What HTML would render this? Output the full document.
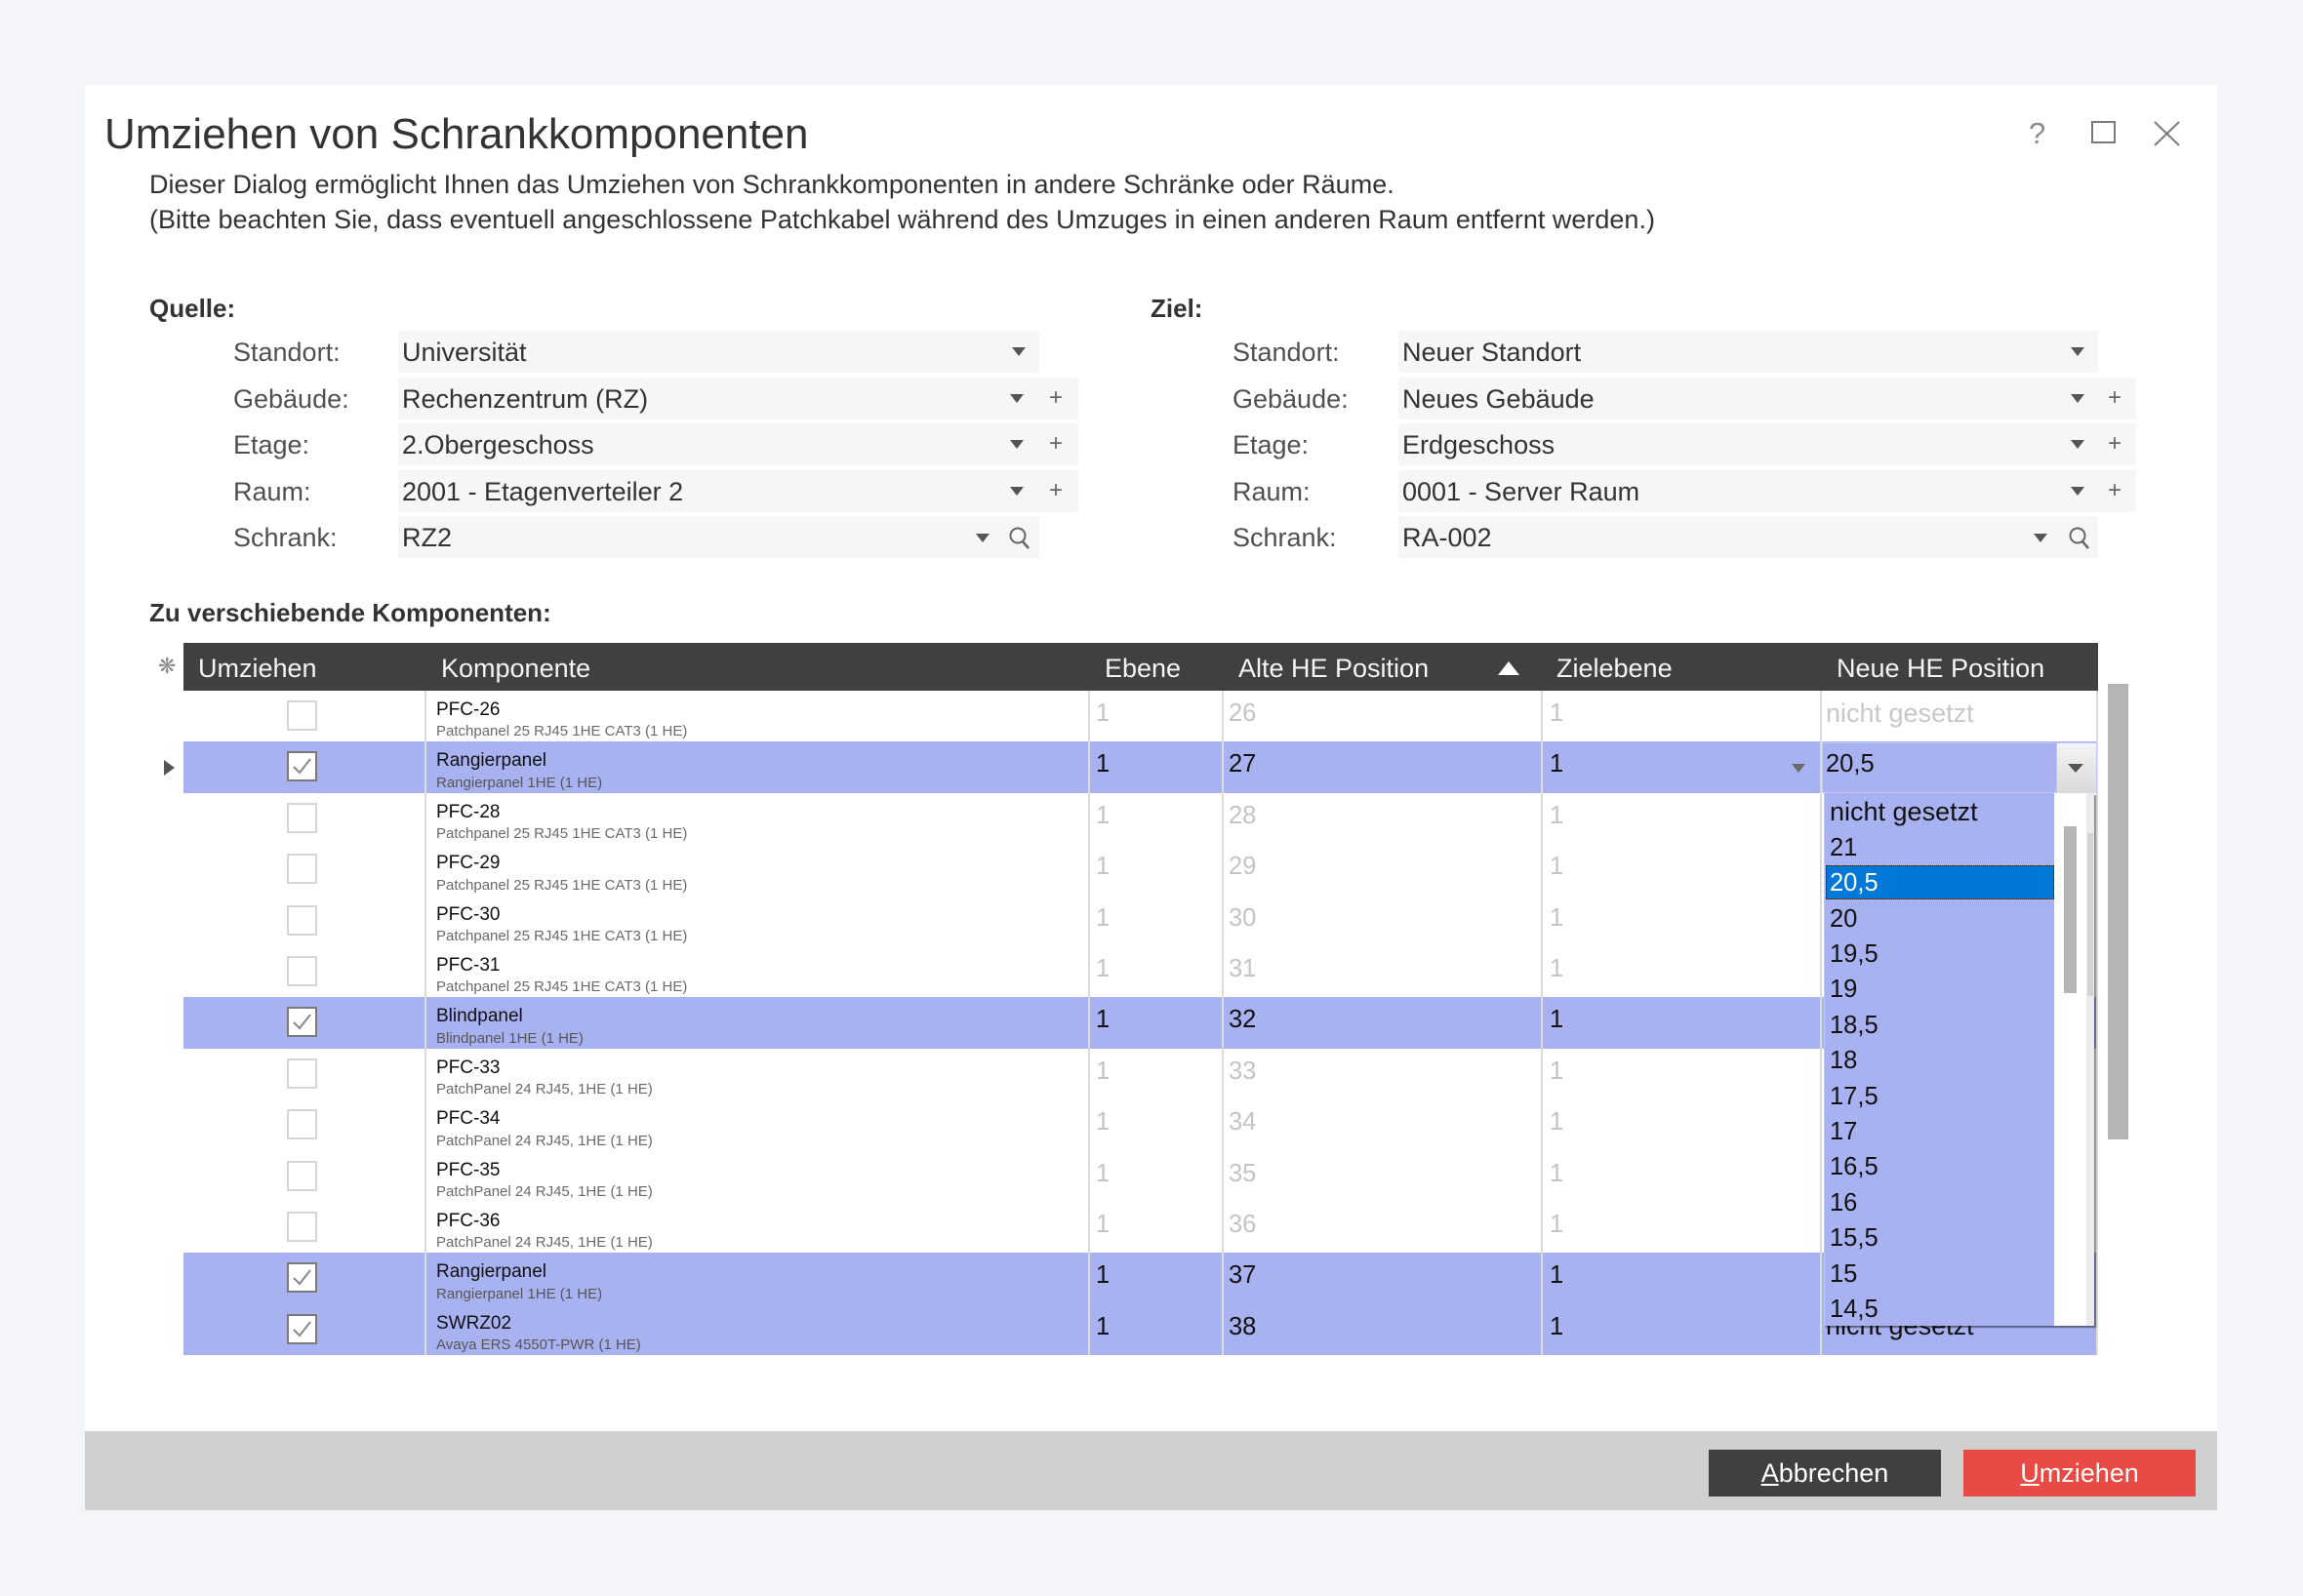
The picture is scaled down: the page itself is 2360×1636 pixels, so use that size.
<!DOCTYPE html>
<html><head><meta charset="utf-8">
<style>
*{margin:0;padding:0;box-sizing:border-box}
html,body{width:2360px;height:1636px;overflow:hidden;background:#f4f5f9}
body{position:relative;font-family:"Liberation Sans",sans-serif;color:#333}
.a{position:absolute}
.t{position:absolute;line-height:1;white-space:nowrap}
.inp{position:absolute;background:#f6f6f6;height:43px}
.lbl{font-size:27px;color:#505050}
.val{font-size:27px;color:#333}
.dn{position:absolute;width:0;height:0;border-left:7px solid transparent;border-right:7px solid transparent;border-top:9px solid #555}
.pl{position:absolute;font-size:24px;color:#666;line-height:1;width:20px;text-align:center}
.hd{font-size:27px;color:#f4f4f4;top:672px}
.sel{position:absolute;left:188px;width:1962px;height:52.4px;background:#a9b2f1}
.cb{position:absolute;left:294px;width:31px;height:31px;background:#fff;border:2px solid #d6d6d6}
.cb.on{border-color:#7a7a7a}
.nm{left:447px;font-size:19px;color:#111}
.sb{left:447px;font-size:15px;color:#6a6a6a}
.n{font-size:25.5px;color:#c4c4c4}
.n.k{color:#111}
.c1{left:1123px}.c2{left:1259px}.c3{left:1588px}
.vl{position:absolute;top:708px;height:681px;width:2px;background:#dcdcdc}
.it{position:absolute;left:5px;font-size:25.5px;color:#111;line-height:1;white-space:nowrap}
</style></head><body>

<!-- dialog -->
<div class="a" style="left:87px;top:87px;width:2185px;height:1461px;background:#fff"></div>
<div class="a" style="left:87px;top:1467px;width:2185px;height:81px;background:#d0d0d0"></div>

<!-- title -->
<div class="t" style="left:107px;top:116px;font-size:44px;color:#333">Umziehen von Schrankkomponenten</div>
<div class="t" style="left:153px;top:176px;font-size:27px;color:#333">Dieser Dialog ermöglicht Ihnen das Umziehen von Schrankkomponenten in andere Schränke oder Räume.</div>
<div class="t" style="left:153px;top:212px;font-size:27px;color:#333">(Bitte beachten Sie, dass eventuell angeschlossene Patchkabel während des Umzuges in einen anderen Raum entfernt werden.)</div>

<!-- title bar icons -->
<div class="t" style="left:2079px;top:121px;font-size:31px;color:#8a8a8a">?</div>
<div class="a" style="left:2143px;top:124px;width:25px;height:23px;border:2px solid #7a7a7a"></div>
<svg class="a" style="left:2207px;top:124px" width="27" height="26"><line x1="1" y1="1" x2="26" y2="25" stroke="#7a7a7a" stroke-width="2"/><line x1="26" y1="1" x2="1" y2="25" stroke="#7a7a7a" stroke-width="2"/></svg>

<!-- Quelle -->
<div class="t" style="left:153px;top:303px;font-size:26px;font-weight:bold;color:#333">Quelle:</div>
<div class="t lbl" style="left:239px;top:348px">Standort:</div>
<div class="t lbl" style="left:239px;top:396px">Gebäude:</div>
<div class="t lbl" style="left:239px;top:443px">Etage:</div>
<div class="t lbl" style="left:239px;top:491px">Raum:</div>
<div class="t lbl" style="left:239px;top:538px">Schrank:</div>

<div class="inp" style="left:408px;top:339px;width:657px"></div>
<div class="inp" style="left:408px;top:387px;width:697px"></div>
<div class="inp" style="left:408px;top:434px;width:697px"></div>
<div class="inp" style="left:408px;top:482px;width:697px"></div>
<div class="inp" style="left:408px;top:529px;width:657px"></div>
<div class="t val" style="left:412px;top:348px">Universität</div>
<div class="t val" style="left:412px;top:396px">Rechenzentrum (RZ)</div>
<div class="t val" style="left:412px;top:443px">2.Obergeschoss</div>
<div class="t val" style="left:412px;top:491px">2001 - Etagenverteiler 2</div>
<div class="t val" style="left:412px;top:538px">RZ2</div>
<div class="dn" style="left:1037px;top:356px"></div>
<div class="dn" style="left:1035px;top:404px"></div>
<div class="dn" style="left:1035px;top:451px"></div>
<div class="dn" style="left:1035px;top:499px"></div>
<div class="dn" style="left:1000px;top:547px"></div>
<div class="pl" style="left:1072px;top:396px">+</div>
<div class="pl" style="left:1072px;top:443px">+</div>
<div class="pl" style="left:1072px;top:491px">+</div>
<svg class="a" style="left:1033px;top:539px" width="24" height="26"><circle cx="10" cy="10" r="7.5" stroke="#666" stroke-width="2" fill="none"/><line x1="15" y1="16" x2="21" y2="23" stroke="#666" stroke-width="2.5"/></svg>

<!-- Ziel -->
<div class="t" style="left:1179px;top:303px;font-size:26px;font-weight:bold;color:#333">Ziel:</div>
<div class="t lbl" style="left:1263px;top:348px">Standort:</div>
<div class="t lbl" style="left:1263px;top:396px">Gebäude:</div>
<div class="t lbl" style="left:1263px;top:443px">Etage:</div>
<div class="t lbl" style="left:1263px;top:491px">Raum:</div>
<div class="t lbl" style="left:1263px;top:538px">Schrank:</div>

<div class="inp" style="left:1433px;top:339px;width:717px"></div>
<div class="inp" style="left:1433px;top:387px;width:756px"></div>
<div class="inp" style="left:1433px;top:434px;width:756px"></div>
<div class="inp" style="left:1433px;top:482px;width:756px"></div>
<div class="inp" style="left:1433px;top:529px;width:717px"></div>
<div class="t val" style="left:1437px;top:348px">Neuer Standort</div>
<div class="t val" style="left:1437px;top:396px">Neues Gebäude</div>
<div class="t val" style="left:1437px;top:443px">Erdgeschoss</div>
<div class="t val" style="left:1437px;top:491px">0001 - Server Raum</div>
<div class="t val" style="left:1437px;top:538px">RA-002</div>
<div class="dn" style="left:2122px;top:356px"></div>
<div class="dn" style="left:2122px;top:404px"></div>
<div class="dn" style="left:2122px;top:451px"></div>
<div class="dn" style="left:2122px;top:499px"></div>
<div class="dn" style="left:2084px;top:547px"></div>
<div class="pl" style="left:2157px;top:396px">+</div>
<div class="pl" style="left:2157px;top:443px">+</div>
<div class="pl" style="left:2157px;top:491px">+</div>
<svg class="a" style="left:2119px;top:539px" width="24" height="26"><circle cx="10" cy="10" r="7.5" stroke="#666" stroke-width="2" fill="none"/><line x1="15" y1="16" x2="21" y2="23" stroke="#666" stroke-width="2.5"/></svg>

<!-- table caption -->
<div class="t" style="left:153px;top:615px;font-size:26px;font-weight:bold;color:#333">Zu verschiebende Komponenten:</div>

<!-- header -->
<div class="a" style="left:188px;top:659px;width:1962px;height:49px;background:#404040"></div>
<div class="t" style="left:162px;top:673px;font-size:22px;color:#8a8a8a;font-family:'DejaVu Sans',sans-serif">❋</div>
<div class="t hd" style="left:203px">Umziehen</div>
<div class="t hd" style="left:452px">Komponente</div>
<div class="t hd" style="left:1132px">Ebene</div>
<div class="t hd" style="left:1269px">Alte HE Position</div>
<div class="a" style="left:1535px;top:678px;width:0;height:0;border-left:11px solid transparent;border-right:11px solid transparent;border-bottom:14px solid #fff"></div>
<div class="t hd" style="left:1595px">Zielebene</div>
<div class="t hd" style="left:1882px">Neue HE Position</div>

<!-- selected rows -->
<div class="sel" style="top:760.4px"></div>
<div class="sel" style="top:1022.4px"></div>
<div class="sel" style="top:1284.4px"></div>
<div class="sel" style="top:1336.8px"></div>

<!-- row indicator -->
<div class="a" style="left:168px;top:779px;width:0;height:0;border-top:8.5px solid transparent;border-bottom:8.5px solid transparent;border-left:11px solid #555"></div>

<!-- grid lines -->
<div class="vl" style="left:435px"></div>
<div class="vl" style="left:1115px"></div>
<div class="vl" style="left:1252px"></div>
<div class="vl" style="left:1579px"></div>
<div class="vl" style="left:1865px"></div>
<div class="vl" style="left:2148px"></div>

<!-- checkboxes -->
<div class="cb" style="top:718px"></div>
<div class="cb on" style="top:770.4px"><svg width="27" height="27" style="position:absolute;left:0;top:0"><polyline points="5,14 11,20 22,6" fill="none" stroke="#888" stroke-width="2"/></svg></div>
<div class="cb" style="top:822.8px"></div>
<div class="cb" style="top:875.2px"></div>
<div class="cb" style="top:927.6px"></div>
<div class="cb" style="top:980px"></div>
<div class="cb on" style="top:1032.4px"><svg width="27" height="27" style="position:absolute;left:0;top:0"><polyline points="5,14 11,20 22,6" fill="none" stroke="#888" stroke-width="2"/></svg></div>
<div class="cb" style="top:1084.8px"></div>
<div class="cb" style="top:1137.2px"></div>
<div class="cb" style="top:1189.6px"></div>
<div class="cb" style="top:1242px"></div>
<div class="cb on" style="top:1294.4px"><svg width="27" height="27" style="position:absolute;left:0;top:0"><polyline points="5,14 11,20 22,6" fill="none" stroke="#888" stroke-width="2"/></svg></div>
<div class="cb on" style="top:1346.8px"><svg width="27" height="27" style="position:absolute;left:0;top:0"><polyline points="5,14 11,20 22,6" fill="none" stroke="#888" stroke-width="2"/></svg></div>

<!-- component names -->
<div class="t nm" style="top:717.9px">PFC-26</div><div class="t sb" style="top:742.3px">Patchpanel 25 RJ45 1HE CAT3 (1 HE)</div>
<div class="t nm" style="top:770.3px">Rangierpanel</div><div class="t sb" style="top:794.7px;color:#555">Rangierpanel 1HE (1 HE)</div>
<div class="t nm" style="top:822.7px">PFC-28</div><div class="t sb" style="top:847.1px">Patchpanel 25 RJ45 1HE CAT3 (1 HE)</div>
<div class="t nm" style="top:875.1px">PFC-29</div><div class="t sb" style="top:899.5px">Patchpanel 25 RJ45 1HE CAT3 (1 HE)</div>
<div class="t nm" style="top:927.5px">PFC-30</div><div class="t sb" style="top:951.9px">Patchpanel 25 RJ45 1HE CAT3 (1 HE)</div>
<div class="t nm" style="top:979.9px">PFC-31</div><div class="t sb" style="top:1004.3px">Patchpanel 25 RJ45 1HE CAT3 (1 HE)</div>
<div class="t nm" style="top:1032.3px">Blindpanel</div><div class="t sb" style="top:1056.7px;color:#555">Blindpanel 1HE (1 HE)</div>
<div class="t nm" style="top:1084.7px">PFC-33</div><div class="t sb" style="top:1109.1px">PatchPanel 24 RJ45, 1HE (1 HE)</div>
<div class="t nm" style="top:1137.1px">PFC-34</div><div class="t sb" style="top:1161.5px">PatchPanel 24 RJ45, 1HE (1 HE)</div>
<div class="t nm" style="top:1189.5px">PFC-35</div><div class="t sb" style="top:1213.9px">PatchPanel 24 RJ45, 1HE (1 HE)</div>
<div class="t nm" style="top:1241.9px">PFC-36</div><div class="t sb" style="top:1266.3px">PatchPanel 24 RJ45, 1HE (1 HE)</div>
<div class="t nm" style="top:1294.3px">Rangierpanel</div><div class="t sb" style="top:1318.7px;color:#555">Rangierpanel 1HE (1 HE)</div>
<div class="t nm" style="top:1346.7px">SWRZ02</div><div class="t sb" style="top:1371.1px;color:#555">Avaya ERS 4550T-PWR (1 HE)</div>

<!-- numbers -->
<div class="t n c1" style="top:718.9px">1</div><div class="t n c2" style="top:718.9px">26</div><div class="t n c3" style="top:718.9px">1</div>
<div class="t n k c1" style="top:771.3px">1</div><div class="t n k c2" style="top:771.3px">27</div><div class="t n k c3" style="top:771.3px">1</div>
<div class="t n c1" style="top:823.7px">1</div><div class="t n c2" style="top:823.7px">28</div><div class="t n c3" style="top:823.7px">1</div>
<div class="t n c1" style="top:876.1px">1</div><div class="t n c2" style="top:876.1px">29</div><div class="t n c3" style="top:876.1px">1</div>
<div class="t n c1" style="top:928.5px">1</div><div class="t n c2" style="top:928.5px">30</div><div class="t n c3" style="top:928.5px">1</div>
<div class="t n c1" style="top:980.9px">1</div><div class="t n c2" style="top:980.9px">31</div><div class="t n c3" style="top:980.9px">1</div>
<div class="t n k c1" style="top:1033.3px">1</div><div class="t n k c2" style="top:1033.3px">32</div><div class="t n k c3" style="top:1033.3px">1</div>
<div class="t n c1" style="top:1085.7px">1</div><div class="t n c2" style="top:1085.7px">33</div><div class="t n c3" style="top:1085.7px">1</div>
<div class="t n c1" style="top:1138.1px">1</div><div class="t n c2" style="top:1138.1px">34</div><div class="t n c3" style="top:1138.1px">1</div>
<div class="t n c1" style="top:1190.5px">1</div><div class="t n c2" style="top:1190.5px">35</div><div class="t n c3" style="top:1190.5px">1</div>
<div class="t n c1" style="top:1242.9px">1</div><div class="t n c2" style="top:1242.9px">36</div><div class="t n c3" style="top:1242.9px">1</div>
<div class="t n k c1" style="top:1295.3px">1</div><div class="t n k c2" style="top:1295.3px">37</div><div class="t n k c3" style="top:1295.3px">1</div>
<div class="t n k c1" style="top:1347.7px">1</div><div class="t n k c2" style="top:1347.7px">38</div><div class="t n k c3" style="top:1347.7px">1</div>

<!-- Neue HE column values -->
<div class="t" style="left:1871px;top:717.6px;font-size:27px;color:#c8c8c8">nicht gesetzt</div>
<div class="t" style="left:1871px;top:1346.4px;font-size:27px;color:#111">nicht gesetzt</div>

<!-- row 1 editing cell -->
<div class="a" style="left:1867px;top:761px;width:282px;height:52px;border:1px solid #c4c9f7"></div>
<div class="t n k" style="left:1871px;top:771.3px">20,5</div>
<div class="a" style="left:2107px;top:762px;width:41px;height:51px;background:linear-gradient(#f4f4f4,#dadada);border-left:1px solid #c8c8c8"></div>
<div class="a" style="left:2119px;top:783px;width:0;height:0;border-left:8.5px solid transparent;border-right:8.5px solid transparent;border-top:9px solid #555"></div>
<div class="a" style="left:1836px;top:783px;width:0;height:0;border-left:7.5px solid transparent;border-right:7.5px solid transparent;border-top:9px solid #6a6a6a"></div>

<!-- outer scrollbar -->
<div class="a" style="left:2160px;top:701px;width:21px;height:467px;background:#b5b5b5"></div>

<!-- dropdown list -->
<div class="a" style="left:1869px;top:813px;width:277px;height:546px;background:#fff;border-left:1px solid #c8c8c8;box-shadow:2px 2px 1px rgba(0,0,0,0.45);z-index:5">
  <div class="a" style="left:0;top:0;width:235px;height:546px;background:#a9b2f1"></div>
  <div class="a" style="left:268px;top:0;width:8px;height:546px;background:#ececec"></div>
  <div class="a" style="left:245px;top:34px;width:13px;height:171px;background:#b5b5b5"></div>
  <div class="a" style="left:269px;top:41px;width:6px;height:167px;background:#d3d3d3"></div>
  <div class="a" style="left:1px;top:74px;width:234px;height:35px;background:#0078d7;border:1px dotted #2a1a00"></div>
  <div class="it" style="top:6.1px;font-size:27px">nicht gesetzt</div>
  <div class="it" style="top:43.8px">21</div>
  <div class="it" style="top:80.2px;color:#fff">20,5</div>
  <div class="it" style="top:116.6px">20</div>
  <div class="it" style="top:153px">19,5</div>
  <div class="it" style="top:189.4px">19</div>
  <div class="it" style="top:225.8px">18,5</div>
  <div class="it" style="top:262.2px">18</div>
  <div class="it" style="top:298.6px">17,5</div>
  <div class="it" style="top:335px">17</div>
  <div class="it" style="top:371.4px">16,5</div>
  <div class="it" style="top:407.8px">16</div>
  <div class="it" style="top:444.2px">15,5</div>
  <div class="it" style="top:480.6px">15</div>
  <div class="it" style="top:517px">14,5</div>
</div>

<!-- footer buttons -->
<div class="a" style="left:1751px;top:1486px;width:238px;height:48px;background:#404040"></div>
<div class="t" style="left:1751px;top:1497px;width:238px;text-align:center;font-size:27px;color:#fff"><span style="text-decoration:underline">A</span>bbrechen</div>
<div class="a" style="left:2012px;top:1486px;width:238px;height:48px;background:#e84a45"></div>
<div class="t" style="left:2012px;top:1497px;width:238px;text-align:center;font-size:27px;color:#fff"><span style="text-decoration:underline">U</span>mziehen</div>

</body></html>
